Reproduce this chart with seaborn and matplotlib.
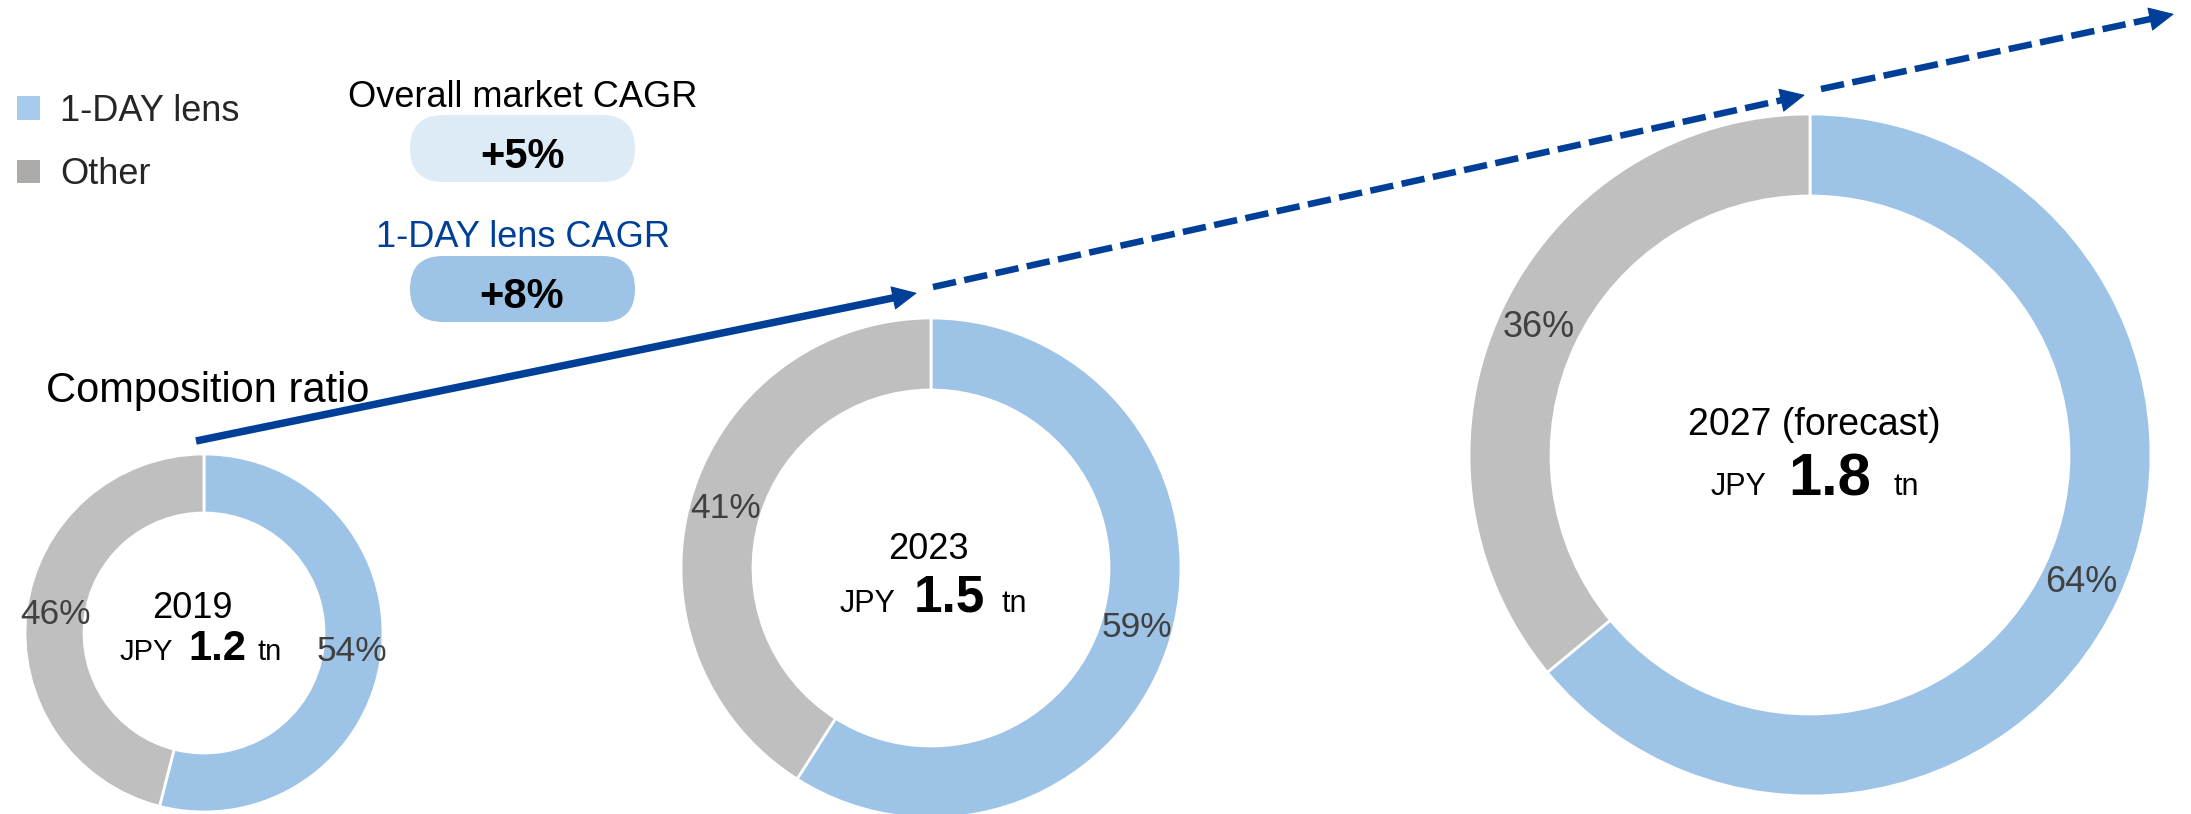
import numpy as np
import pandas as pd
import matplotlib
matplotlib.use("Agg")
import matplotlib.pyplot as plt
import seaborn as sns
from matplotlib.patches import FancyBboxPatch, Patch, FancyArrowPatch

# ---------------- data ----------------
years = ["2019", "2023", "2027 (forecast)"]
market_tn = [1.2, 1.5, 1.8]
oneday_pct = [54, 59, 64]
other_pct = [46, 41, 36]
segments = ["1-DAY lens", "Other"]
cagr_titles = ["Overall market CAGR", "1-DAY lens CAGR"]
cagr_pct = [5, 8]
side_title = "Composition ratio"

# ---------------- style ----------------
sns.set_theme(style="white")
plt.rcParams["font.family"] = ["Liberation Sans", "DejaVu Sans"]

BLUE = "#9DC3E6"
GRAY = "#BFBFBF"
NAVY = "#003F98"
LABEL = "#404040"
LEG_COLORS = ["#A6CAEC", "#ADAAAA"]
PILL_COLORS = ["#DDEBF7", "#9DC3E6"]
PILL_TEXT = ["black", NAVY]

W, H = 2191, 814
fig = plt.figure(figsize=(W / 100, H / 100), dpi=100)
ax = fig.add_axes([0, 0, 1, 1])

# donut geometry (pixel coords, y downward)
centers = [(204, 633), (931, 568), (1810, 455)]
radii = [179, 250, 341]
widths = [59, 72, 82]
pct_fs = [25.5, 25.5, 26]

title_xy = [(192, 618), (928, 559), (1814, 435)]
title_fs = [26, 26, 27]
line2_base = [660, 612, 495]
jpy_right = [173, 895, 1766]
num_center = [217, 949.5, 1830]
tn_left = [258, 1001, 1893]
jpy_fs = [21, 22, 22]
num_fs = [30, 37, 43]

for i in range(3):
    R, w = radii[i], widths[i]
    ax.pie([oneday_pct[i], other_pct[i]], colors=[BLUE, GRAY],
           startangle=-90, counterclock=True, center=centers[i], radius=R,
           wedgeprops=dict(width=w, edgecolor="white", linewidth=2),
           autopct=lambda p: f"{p:.0f}%", pctdistance=(R - w / 2) / R,
           textprops=dict(fontsize=pct_fs[i], color=LABEL))
    tx, ty = title_xy[i]
    ax.text(tx, ty, years[i], ha="center", va="baseline",
            fontsize=title_fs[i], color="black")
    ax.text(jpy_right[i], line2_base[i], "JPY", ha="right", va="baseline",
            fontsize=jpy_fs[i], color="black")
    ax.text(num_center[i], line2_base[i], f"{market_tn[i]:.1f}", ha="center",
            va="baseline", fontsize=num_fs[i], fontweight="bold", color="black")
    ax.text(tn_left[i], line2_base[i], "tn", ha="left", va="baseline",
            fontsize=jpy_fs[i], color="black")

# ---------------- CAGR pills ----------------
pill_y = [115, 256]
pill_h = [67, 66]
title_base = [107, 247]
val_base = [168, 308]
for j in range(2):
    box = FancyBboxPatch((410, pill_y[j]), 225, pill_h[j],
                         boxstyle=f"round,pad=0,rounding_size={pill_h[j] / 2}",
                         fc=PILL_COLORS[j], ec="none")
    ax.add_patch(box)
    ax.text(523, title_base[j], cagr_titles[j], ha="center", va="baseline",
            fontsize=26, color=PILL_TEXT[j])
    ax.text(522, val_base[j], f"+{cagr_pct[j]}%", ha="center", va="baseline",
            fontsize=30, fontweight="bold", color="black")

ax.text(46, 402, side_title, ha="left", va="baseline", fontsize=30, color="black")

# ---------------- arrows ----------------
def draw_arrow(p0, tip, dashed):
    p0 = np.array(p0, float)
    tip = np.array(tip, float)
    d = tip - p0
    u = d / np.hypot(*d)
    head_len = 23
    base = tip - u * (head_len - 3)
    if dashed:
        ax.plot([p0[0], base[0]], [p0[1], base[1]], color=NAVY, lw=4.7,
                linestyle=(0, (3.6, 1.3)), dash_capstyle="butt")
    else:
        ax.plot([p0[0], base[0]], [p0[1], base[1]], color=NAVY, lw=5.4,
                solid_capstyle="butt")
    head = FancyArrowPatch(posA=tuple(tip - u * head_len), posB=tuple(tip),
                           arrowstyle="-|>,head_length=16.5,head_width=8",
                           mutation_scale=1, color=NAVY, lw=0.8,
                           shrinkA=0, shrinkB=0)
    ax.add_patch(head)

draw_arrow((196, 441), (917, 293), False)
draw_arrow((933, 287), (1805, 95), True)
draw_arrow((1821, 89), (2174, 14), True)

# ---------------- legend ----------------
handles = [Patch(facecolor=LEG_COLORS[k], edgecolor="none", label=segments[k])
           for k in range(2)]
ax.legend(handles=handles, loc="upper left", bbox_to_anchor=(17, 94),
          bbox_transform=ax.transData, frameon=False, fontsize=26,
          handlelength=0.64, handleheight=0.64, handletextpad=0.55,
          labelspacing=0.78, borderpad=0, borderaxespad=0)

ax.set_xlim(0, W)
ax.set_ylim(H, 0)
ax.set_aspect("equal")
ax.axis("off")

fig.savefig("out.png", dpi=100)
